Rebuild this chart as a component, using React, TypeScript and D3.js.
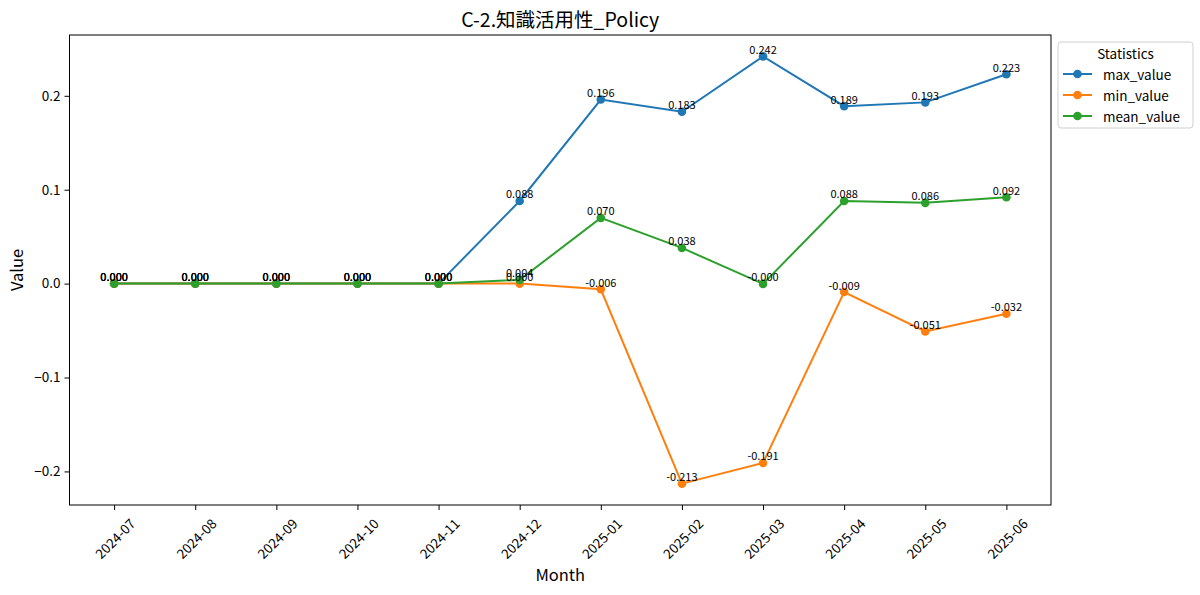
import React, { useEffect, useRef } from 'react';
import * as d3 from 'd3';

const months = [
  '2024-07', '2024-08', '2024-09', '2024-10', '2024-11', '2024-12',
  '2025-01', '2025-02', '2025-03', '2025-04', '2025-05', '2025-06',
];
const maxValues = [0, 0, 0, 0, 0, 0.088, 0.196, 0.183, 0.242, 0.189, 0.193, 0.223];
const minValues = [0, 0, 0, 0, 0, 0.0, -0.006, -0.213, -0.191, -0.009, -0.051, -0.032];
const meanValues = [0, 0, 0, 0, 0, 0.004, 0.07, 0.038, -0.0003, 0.088, 0.086, 0.092];
const yTicks = [-0.2, -0.1, 0.0, 0.1, 0.2];

const series = [
  { name: 'max_value', values: maxValues, color: '#1f77b4' },
  { name: 'min_value', values: minValues, color: '#ff7f0e' },
  { name: 'mean_value', values: meanValues, color: '#2ca02c' },
];

const FONT = '"Noto Sans CJK JP", "Noto Sans", sans-serif';

const App: React.FC = () => {
  const ref = useRef<SVGSVGElement | null>(null);

  useEffect(() => {
    if (!ref.current) return;
    const svg = d3.select(ref.current);
    svg.selectAll('*').remove();

    const width = 1200;
    const height = 595;
    const margin = { top: 35, right: 149, bottom: 90, left: 69.5 };
    const plotW = width - margin.left - margin.right;
    const plotH = height - margin.top - margin.bottom;

    svg.attr('width', width).attr('height', height).style('font-family', FONT);
    svg.append('rect').attr('width', width).attr('height', height).attr('fill', '#fff');

    const all = [...maxValues, ...minValues, ...meanValues];
    const lo = d3.min(all) as number;
    const hi = d3.max(all) as number;
    const pad = (hi - lo) * 0.05;

    const x = d3.scaleLinear().domain([-0.55, months.length - 1 + 0.55]).range([0, plotW]);
    const y = d3.scaleLinear().domain([lo - pad, hi + pad]).range([plotH, 0]);

    const g = svg.append('g').attr('transform', `translate(${margin.left},${margin.top})`);

    // y axis
    const yAxis = d3
      .axisLeft(y)
      .tickValues(yTicks)
      .tickSize(5)
      .tickPadding(4)
      .tickFormat((d) => d3.format('.1f')(d as number).replace('-', '\u2212'));
    const yg = g.append('g').call(yAxis);
    yg.select('.domain').remove();
    yg.selectAll('.tick text').attr('font-size', 13.5).attr('font-family', FONT).attr('fill', '#000');
    yg.selectAll('.tick line').attr('stroke', '#000');

    // x axis
    const xAxis = d3
      .axisBottom(x)
      .tickValues(months.map((_, i) => i))
      .tickSize(5)
      .tickFormat(() => '');
    const xg = g.append('g').attr('transform', `translate(0,${plotH})`).call(xAxis);
    xg.select('.domain').remove();
    xg.selectAll('.tick line').attr('stroke', '#000');
    xg.selectAll('.tick')
      .append('text')
      .attr('transform', 'translate(0,33) rotate(-45)')
      .attr('text-anchor', 'middle')
      .attr('dominant-baseline', 'central')
      .attr('font-size', 13.5)
      .attr('font-family', FONT)
      .attr('fill', '#000')
      .text((d: any) => months[d]);

    // frame
    g.append('rect')
      .attr('width', plotW)
      .attr('height', plotH)
      .attr('fill', 'none')
      .attr('stroke', '#000')
      .attr('stroke-width', 1);

    const line = d3
      .line<number>()
      .x((_, i) => x(i))
      .y((d) => y(d));

    series.forEach((s) => {
      g.append('path')
        .attr('d', line(s.values) as string)
        .attr('fill', 'none')
        .attr('stroke', s.color)
        .attr('stroke-width', 2);
      g.selectAll(null)
        .data(s.values)
        .enter()
        .append('circle')
        .attr('cx', (_, i) => x(i))
        .attr('cy', (d) => y(d))
        .attr('r', 4.3)
        .attr('fill', s.color);
    });

    // value labels
    series.forEach((s) => {
      g.selectAll(null)
        .data(s.values)
        .enter()
        .append('text')
        .attr('x', (_, i) => x(i))
        .attr('y', (d) => y(d) - 2.5)
        .attr('text-anchor', 'middle')
        .attr('font-size', 11)
        .attr('fill', '#000')
        .text((d) => d.toFixed(3));
    });

    // title and axis labels
    svg.append('text')
      .attr('x', margin.left + plotW / 2)
      .attr('y', 27)
      .attr('text-anchor', 'middle')
      .attr('font-size', 19.5)
      .text('C-2.知識活用性_Policy');
    svg.append('text')
      .attr('x', margin.left + plotW / 2)
      .attr('y', 581)
      .attr('text-anchor', 'middle')
      .attr('font-size', 16.5)
      .text('Month');
    svg.append('text')
      .attr('transform', `translate(23,${margin.top + plotH / 2}) rotate(-90)`)
      .attr('text-anchor', 'middle')
      .attr('font-size', 16.5)
      .text('Value');

    // legend
    const lg = svg.append('g').attr('transform', 'translate(1058,42)');
    lg.append('rect')
      .attr('width', 135)
      .attr('height', 86)
      .attr('rx', 3)
      .attr('fill', '#fff')
      .attr('fill-opacity', 0.8)
      .attr('stroke', '#d0d0d0');
    lg.append('text')
      .attr('x', 67.5)
      .attr('y', 17)
      .attr('text-anchor', 'middle')
      .attr('font-size', 13.5)
      .text('Statistics');
    series.forEach((s, i) => {
      const yy = 32 + i * 21;
      lg.append('line')
        .attr('x1', 5)
        .attr('x2', 34)
        .attr('y1', yy)
        .attr('y2', yy)
        .attr('stroke', s.color)
        .attr('stroke-width', 2);
      lg.append('circle').attr('cx', 19.5).attr('cy', yy).attr('r', 4.3).attr('fill', s.color);
      lg.append('text')
        .attr('x', 45)
        .attr('y', yy)
        .attr('dominant-baseline', 'central')
        .attr('font-size', 13.5)
        .text(s.name);
    });
  }, []);

  return (
    <div style={{ position: 'absolute', left: 0, top: 0 }}>
      <svg ref={ref}></svg>
    </div>
  );
};

export default App;
